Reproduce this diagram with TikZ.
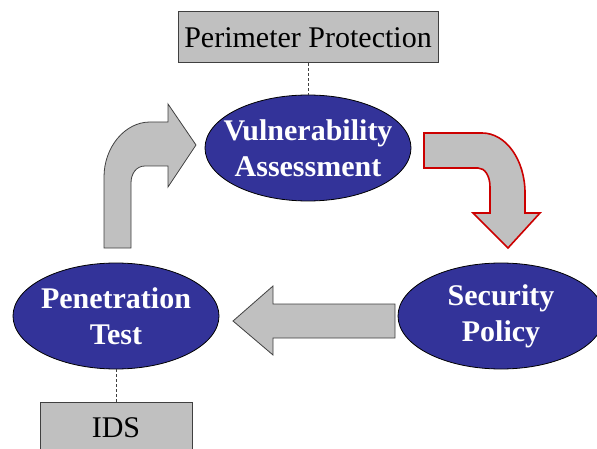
\documentclass[tikz,border=0pt]{standalone}
\usepackage{fontspec}
\setmainfont{Liberation Serif}
\usepackage{tikz}
\usetikzlibrary{shapes.geometric}
\definecolor{navy}{RGB}{51,51,153}
\definecolor{boxgray}{RGB}{192,192,192}
\definecolor{edgegray}{RGB}{64,64,64}
\definecolor{arrowred}{RGB}{204,0,0}

\begin{document}
\begin{tikzpicture}[x=1pt,y=-1pt,
        blob/.style={ellipse,draw=black,line width=0.8pt,fill=navy,text=white,
            font=\fontsize{30}{36}\selectfont\bfseries,align=center,
            inner sep=0pt,inner xsep=-20pt,minimum width=206pt,minimum height=106pt},
        tag/.style={rectangle,draw=edgegray,line width=1pt,fill=boxgray,
            font=\fontsize{30}{36}\selectfont,inner sep=0pt,minimum height=51pt},
        link/.style={dashed,edgegray,line width=0.8pt,dash pattern=on 3pt off 2pt},
        bigarrow/.style={fill=boxgray,draw=edgegray,line width=0.8pt,line join=miter}]
        \useasboundingbox (0,0) rectangle (597,449);
        \clip (0,0) rectangle (597,449);

        \node (va) [blob] at (308,148) {Vulnerability\\Assessment};
        \node (pp) [tag,minimum width=260pt,above of=va,node distance=110.5pt] {Perimeter Protection};

        \node (pt) [blob] at (116,316) {Penetration\\Test};
        \node (sp) [blob,right of=pt,node distance=385pt] {Security\\Policy};
        \node (ids) [tag,minimum width=152pt,below of=pt,node distance=111.5pt] {IDS};

        \draw[link] (pp) -- (va);
        \draw[link] (pt) -- (ids);

        % big block arrows round the cycle
        \draw[bigarrow] (104,248) -- (104,177) .. controls (104,147) and (125,122) .. (150,122)
            -- (168,122) -- (168,104) -- (196,145) -- (168,187) -- (168,166) -- (145,166)
            .. controls (136,166) and (131,174) .. (131,183) -- (131,248) -- cycle;
        \draw[bigarrow,draw=arrowred,line width=1.6pt] (424,133) -- (482,133)
            .. controls (506,133) and (525,160) .. (525,193) -- (525,213) -- (540,213)
            -- (508,248) -- (473,213) -- (490,213) -- (490,187)
            .. controls (490,176) and (485,168) .. (478,168) -- (424,168) -- cycle;
        \draw[bigarrow] (395,304) -- (273,304) -- (273,286) -- (233,321) -- (273,355)
            -- (273,338) -- (395,338) -- cycle;
\end{tikzpicture}
\end{document}
